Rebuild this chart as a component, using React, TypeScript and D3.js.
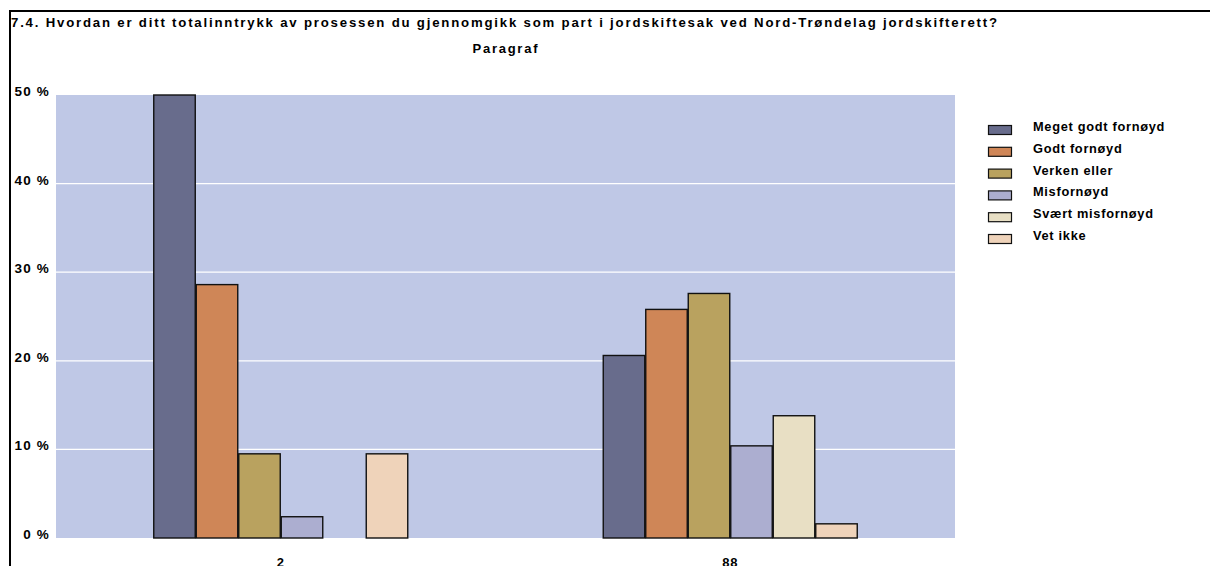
import React from "react";
import * as d3 from "d3";

const title = "7.4. Hvordan er ditt totalinntrykk av prosessen du gjennomgikk som part i jordskiftesak ved Nord-Trøndelag jordskifterett?";
const subtitle = "Paragraf";
const categories = ["2", "88"];
const seriesNames = ["Meget godt fornøyd", "Godt fornøyd", "Verken eller", "Misfornøyd", "Svært misfornøyd", "Vet ikke"];
const seriesColors = ["#686c8c", "#cf8657", "#b9a25f", "#acaed0", "#e8dfc4", "#efd3ba"];
// values per series, [cat "2", cat "88"]
const meget = [50.0, 20.6];
const godt = [28.6, 25.8];
const verken = [9.5, 27.6];
const misfornoyd = [2.4, 10.4];
const svaert = [0, 13.8];
const vetIkke = [9.5, 1.6];
const seriesValues = [meget, godt, verken, misfornoyd, svaert, vetIkke];
const yTicks = [0, 10, 20, 30, 40, 50];

const W = 1210, H = 566;
const plot = { left: 56, right: 955, top: 95, bottom: 538 };
const FONT = "'Liberation Sans', Arial, sans-serif";

export default function App() {
  const x0 = d3.scaleBand<string>().domain(categories).range([plot.left, plot.right]).paddingInner(0).paddingOuter(0);
  const groupW = 255;
  const x1 = d3.scaleBand<string>().domain(seriesNames).range([0, groupW]).padding(0);
  const y = d3.scaleLinear().domain([0, 50]).range([plot.bottom, plot.top]);

  return (
    <svg width={W} height={H} style={{ position: "absolute", left: 0, top: 0, background: "#fff" }} fontFamily={FONT}>
      <line x1={9} y1={11} x2={1210} y2={11} stroke="#000" strokeWidth={2} />
      <line x1={10} y1={10} x2={10} y2={566} stroke="#000" strokeWidth={2} />
      <text x={11} y={27} fontSize={13.2} fontWeight="bold" textLength={986} lengthAdjust="spacing">{title}</text>
      <text x={505} y={53} fontSize={13} fontWeight="bold" textAnchor="middle" textLength={65} lengthAdjust="spacing">{subtitle}</text>

      <rect x={plot.left} y={plot.top} width={plot.right - plot.left} height={plot.bottom - plot.top} fill="#bfc8e6" />
      {yTicks.filter(t => t > 0 && t < 50).map(t => (
        <line key={t} x1={plot.left} x2={plot.right} y1={y(t)} y2={y(t)} stroke="#fff" strokeWidth={1.2} />
      ))}
      {yTicks.map(t => (
        <text key={t} x={50} y={y(t) + 1} fontSize={13.5} fontWeight="bold" textAnchor="end" letterSpacing={1.2}>{`${t} %`}</text>
      ))}

      {categories.map((c, ci) => {
        const gx = (x0(c) as number) + x0.bandwidth() / 2 - groupW / 2;
        return (
          <g key={c}>
            {seriesNames.map((s, si) => {
              const v = seriesValues[si][ci];
              if (!v) return null;
              const bx = gx + (x1(s) as number);
              return (
                <rect key={s} x={bx + 0.5} y={y(v)} width={x1.bandwidth() - 1} height={y(0) - y(v)}
                  fill={seriesColors[si]} stroke="#111" strokeWidth={1.4} />
              );
            })}
            <text x={(x0(c) as number) + x0.bandwidth() / 2} y={567} fontSize={13} fontWeight="bold" textAnchor="middle" letterSpacing={0.8}>{c}</text>
          </g>
        );
      })}

      {seriesNames.map((s, i) => {
        const cy = 130 + i * 21.8;
        return (
          <g key={s}>
            <rect x={988.5} y={cy - 4.5} width={23} height={9} fill={seriesColors[i]} stroke="#111" strokeWidth={1.2} />
            <text x={1033} y={cy + 1} fontSize={12.8} fontWeight="bold" letterSpacing={0.7}>{s}</text>
          </g>
        );
      })}
    </svg>
  );
}
